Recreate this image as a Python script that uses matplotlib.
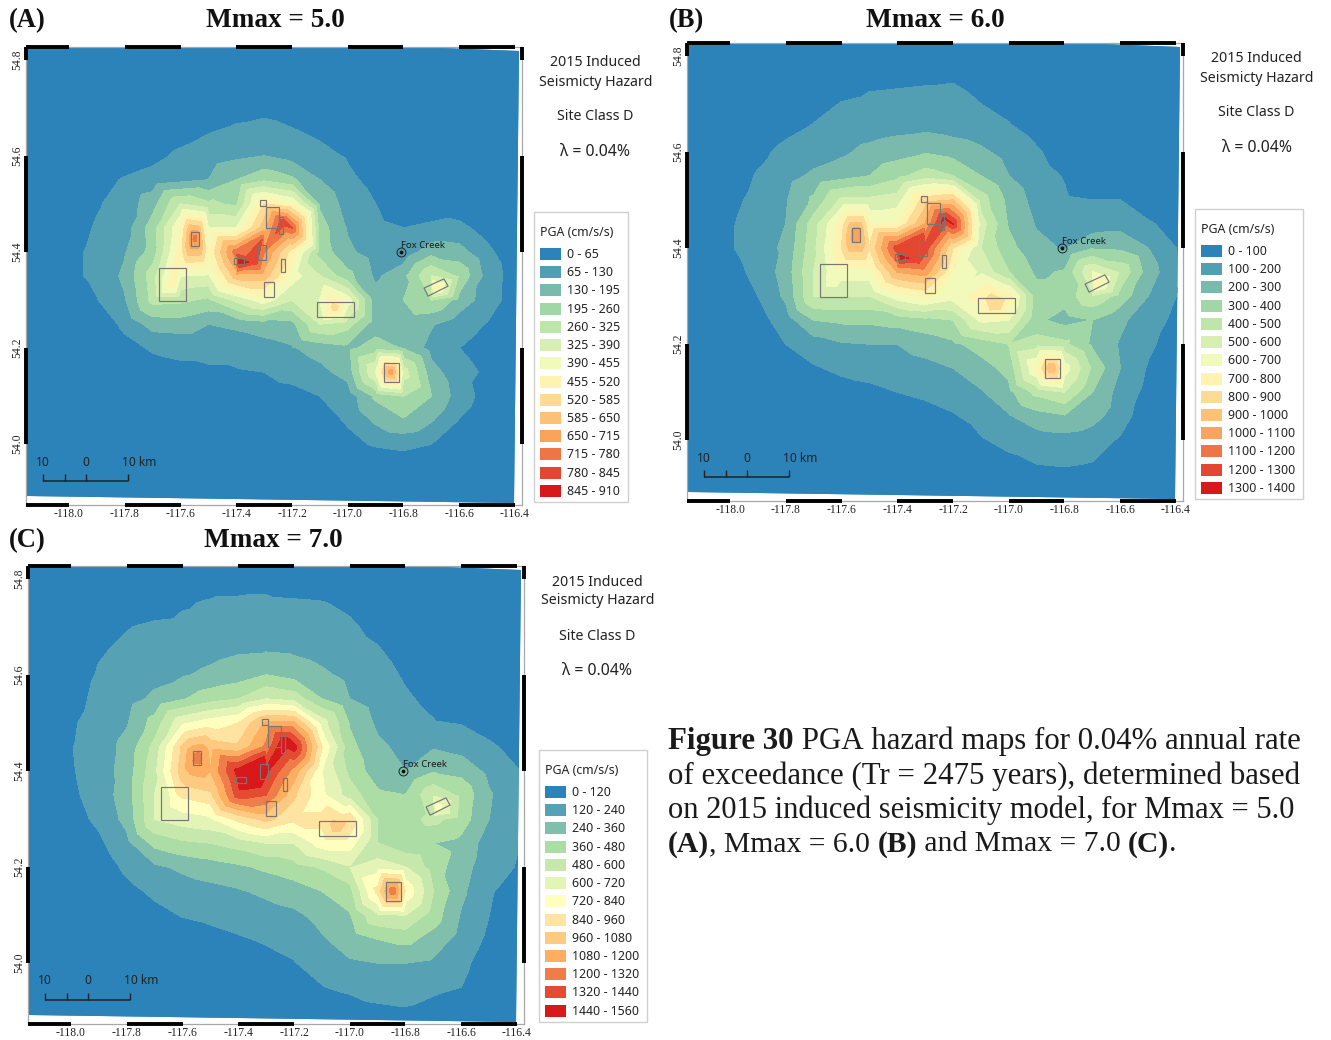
import numpy as np
import matplotlib
matplotlib.use("Agg")
import matplotlib.pyplot as plt
from matplotlib.patches import Polygon, Rectangle
from matplotlib.tri import Triangulation

# ---------- data ----------
grid_lons = [-118.1, -118.0, -117.9, -117.8, -117.7, -117.6, -117.5, -117.4, -117.3, -117.2,
             -117.1, -117.0, -116.9, -116.8, -116.7, -116.6, -116.5, -116.4, -116.3]
grid_lats = [54.80, 54.75, 54.70, 54.65, 54.60, 54.55, 54.50, 54.45, 54.40,
             54.35, 54.30, 54.25, 54.20, 54.15, 54.10, 54.05, 54.00, 53.95, 53.90]

hazard_a = [
 [0,0,0,0,0,0,0,0,0,0,0,0,0,0,0,0,0,0,0],
 [0,0,0,0,0,0,.1,.2,.3,.2,.1,0,0,0,0,0,0,0,0],
 [0,0,0,0,0,.1,.3,.6,.7,.5,.2,0,0,0,0,0,0,0,0],
 [0,0,0,.1,.3,.6,.95,1.2,1.4,1.1,.8,.3,0,0,0,0,0,0,0],
 [0,0,.1,.3,.7,1.2,1.5,1.8,2.0,1.6,1.3,.9,.3,0,0,0,0,0,0],
 [0,0,.6,1.1,1.4,1.7,2.0,3.0,3.8,3.2,2.0,1.2,.7,.2,.1,0,0,0,0],
 [0,.3,.9,1.4,2.6,5.0,4.2,3.8,8,7,2.8,1.6,1.0,.5,.7,.5,.2,0,0],
 [0,.5,1.1,1.5,3.5,7,6,6,9.5,12,3.5,1.9,1.2,1.0,1.1,1.2,.7,.2,0],
 [0,.7,1.25,1.9,3.4,7.5,7,11.5,11,7.5,3.6,2.2,1.5,1.3,2.6,2.4,1.2,.4,0],
 [0,.7,1.25,2.2,4.5,6,5.8,9.5,9.5,6.5,5,3.3,1.8,2.7,5,3.8,1.6,.5,0],
 [0,.3,.95,1.9,4.3,4.2,3.8,5.2,6.5,5,6,6.5,2.4,3.0,4,2.6,1.5,.5,0],
 [0,0,.4,1.2,2.4,2.5,2,2.2,2.5,2.7,5,4.4,2.4,2.3,2.1,1.4,.95,.3,0],
 [0,0,0,.7,1.1,1.2,1.2,1.4,1.6,1.9,2.4,2.7,3.5,2.9,1.6,1,.6,.1,0],
 [0,0,0,.2,.6,.8,.9,.9,1.0,1.3,1.7,2.4,6,5.5,2.4,1.3,.85,0,0],
 [0,0,0,0,.1,.2,.3,.4,.6,.7,1,1.4,3.2,4.0,3.0,1.5,.6,0,0],
 [0,0,0,0,0,0,0,.05,.1,.3,.6,1.1,2.2,2.9,2.1,.95,.3,0,0],
 [0,0,0,0,0,0,0,0,0,0,.2,.75,1.1,1.25,1.0,.3,0,0,0],
 [0,0,0,0,0,0,0,0,0,0,0,0,.2,.3,.1,0,0,0,0],
 [0,0,0,0,0,0,0,0,0,0,0,0,0,0,0,0,0,0,0],
]
hazard_b = [
 [0,0,0,0,0,.1,.3,.4,.4,.4,.2,0,0,0,0,0,0,0,0],
 [0,0,0,0,.1,.5,.8,.85,.9,.95,.7,.2,0,0,0,0,0,0,0],
 [0,0,0,.2,.6,1.05,1.2,1.25,1.3,1.3,1.0,.7,.2,0,0,0,0,0,0],
 [0,0,.2,.7,1.1,1.3,1.5,1.7,1.8,1.6,1.4,1.1,.7,.1,0,0,0,0,0],
 [0,.2,.7,1.3,1.5,1.8,2.3,2.6,2.9,2.6,2.2,1.6,1.1,.6,.1,0,0,0,0],
 [0,.4,1.1,1.6,2.2,2.6,3.0,3.7,4.5,4.0,3.0,2.0,1.3,.95,.4,.2,0,0,0],
 [0,.7,1.3,1.9,3.2,5.2,5.2,5.5,8.5,9,4.5,2.7,1.6,1.1,1.0,1.0,.5,.1,0],
 [0,.9,1.4,2.0,4.5,7.5,7,7,10,13,5.5,2.9,1.9,1.5,1.4,1.6,1.1,.7,0],
 [0,.9,1.5,2.2,4.7,8,8,12.5,12.5,8,5,3.3,2.3,1.9,2.9,2.8,2.0,1.0,.2],
 [0,.6,1.3,2.4,5,6.5,6.5,10,10.5,7,5.8,4,2.8,3.1,6,4.8,2.5,1.2,.3],
 [0,.3,1.0,2.2,5,5,5,6.5,7.2,6.5,7.5,7.5,3.4,3.4,4.8,3.6,2,1.0,.3],
 [0,0,.6,1.5,3.0,3.2,3.2,3.4,3.7,4,6.2,6,3.2,2.6,3,2.2,1.4,.8,.1],
 [0,0,.1,1.0,1.5,1.9,2.0,2.0,2.4,2.8,3.4,4,4.5,4.2,2.8,1.9,1.2,.5,0],
 [0,0,0,.4,.9,1.2,1.3,1.5,1.7,2,2.6,3.3,7,6.5,3.8,2,.9,.2,0],
 [0,0,0,0,.3,.6,.8,1.0,1.2,1.5,1.9,2.7,4.3,5,3,1.6,.7,.1,0],
 [0,0,0,0,0,.1,.2,.4,.6,.9,1.4,1.9,2.6,2.9,2.4,1.4,.4,0,0],
 [0,0,0,0,0,0,0,0,.1,.2,.9,1.3,1.5,1.6,1.4,.9,.2,0,0],
 [0,0,0,0,0,0,0,0,0,0,.1,.7,1.0,1.1,.95,.3,0,0,0],
 [0,0,0,0,0,0,0,0,0,0,0,0,.1,.2,.1,0,0,0,0],
]
hazard_c = [
 [0,0,0,0,0,0,.2,.6,.7,.5,.2,0,0,0,0,0,0,0,0],
 [0,0,0,.1,.4,.85,1.15,1.15,1.15,1.1,1.05,.8,.3,0,0,0,0,0,0],
 [0,0,.1,.95,1.2,1.3,1.4,1.45,1.5,1.5,1.4,1.15,.7,.1,0,0,0,0,0],
 [0,.2,.9,1.2,1.4,1.5,1.7,1.9,1.95,1.85,1.6,1.4,1.1,.5,.1,0,0,0,0],
 [0,.4,1.1,1.4,1.7,1.9,2.2,2.5,3.0,2.6,2.2,1.7,1.3,.9,.4,0,0,0,0],
 [0,.7,1.2,1.6,2.2,2.9,3.6,4,5,4.6,3,2,1.5,1.1,.8,.4,.1,0,0],
 [0,.9,1.3,1.9,3.4,5.8,6.5,7,9.2,9.2,5.5,2.9,1.8,1.3,1.05,.95,.6,.1,0],
 [0,.95,1.5,2.3,4.3,8.2,8.6,8.2,10.2,12.5,7,3.3,2.2,1.7,1.9,1.6,1.15,.7,.3],
 [0,.9,1.5,2.4,4.7,8.6,9,12.4,12.2,9.6,6,3.7,2.4,2.0,2.9,2.7,1.7,1.05,.6],
 [0,.8,1.4,2.5,5,7.2,7.7,11.5,11,8.2,6.2,4.5,3.2,3,4.8,3.7,2.1,1.2,.7],
 [0,.6,1.2,2.3,5,5.5,5.8,7.3,8.3,7.3,7.3,7.8,3.9,3.6,4.3,3.5,2,1.15,.6],
 [0,.2,.8,1.7,3.3,3.8,4.0,4.4,5,5,6.5,6.5,4,3.2,3,2.7,1.5,1.05,.5],
 [0,0,.4,1.2,1.8,2.2,2.5,2.8,3.2,3.6,4.1,4.9,5.5,5,3.5,2.4,1.4,.95,.4],
 [0,0,.1,.7,1.2,1.5,1.7,1.9,2.2,2.5,3.0,3.6,7.3,6.8,4,2.2,1.1,.6,.1],
 [0,0,0,.2,.7,1.05,1.2,1.4,1.6,1.8,2.3,2.9,4.8,5,3.5,1.9,1.0,.4,0],
 [0,0,0,0,.2,.5,.7,.9,1.1,1.3,1.9,2.4,3.0,3.3,2.6,1.6,.8,.1,0],
 [0,0,0,0,0,.1,.3,.5,.7,.95,1.4,1.9,2,2,1.8,1.3,.4,0,0],
 [0,0,0,0,0,0,0,0,0,.2,.95,1.3,1.4,1.4,1.3,1.0,.2,0,0],
 [0,0,0,0,0,0,0,0,0,0,0,.3,.8,.9,.5,.1,0,0,0],
]

# local maxima between grid nodes
peak_lons = [-117.387, -117.308, -117.232, -117.548, -117.631, -117.046, -116.845, -116.687, -117.333]
peak_lats = [54.379, 54.425, 54.4625, 54.429, 54.331, 54.283, 54.150, 54.325, 54.379]
peaks_a = [13.7, 12.0, 12.6, 11.5, 7.5, 8.5, 10.7, 7.5, 12.5]
peaks_b = [13.2, 12.6, 13.1, 11.0, 6.5, 9.0, 10.0, 7.5, 12.8]
peaks_c = [12.8, 12.4, 12.7, 10.5, 6.2, 8.5, 10.8, 6.5, 12.7]

colors_14 = ['#2b83ba', '#529fb3', '#7abaac', '#a1d6a6', '#bee5aa', '#d8efb3', '#f2fabb',
             '#fff3b1', '#fedb94', '#fdc177', '#faa35c', '#ee7546', '#e34731', '#d7191c']
colors_13 = ['#2b83ba', '#56a1b3', '#80bfab', '#abdda4', '#c7e8ad', '#e3f4b6', '#ffffbf',
             '#fee4a0', '#fec981', '#fdae61', '#f07c4a', '#e44b33', '#d7191c']
band_edges_a = [0, 65, 130, 195, 260, 325, 390, 455, 520, 585, 650, 715, 780, 845, 910]
band_edges_b = [0, 100, 200, 300, 400, 500, 600, 700, 800, 900, 1000, 1100, 1200, 1300, 1400]
band_edges_c = [0, 120, 240, 360, 480, 600, 720, 840, 960, 1080, 1200, 1320, 1440, 1560]

# seismic source zones (lon, lat corners)
source_zones = [
 [(-117.677,54.367),(-117.580,54.367),(-117.580,54.298),(-117.677,54.298)],
 [(-117.564,54.442),(-117.534,54.442),(-117.534,54.412),(-117.564,54.412)],
 [(-117.408,54.3875),(-117.372,54.3875),(-117.372,54.375),(-117.408,54.375)],
 [(-117.322,54.415),(-117.293,54.415),(-117.293,54.383),(-117.322,54.383)],
 [(-117.293,54.494),(-117.247,54.494),(-117.247,54.45),(-117.293,54.45)],
 [(-117.247,54.473),(-117.234,54.473),(-117.234,54.4375),(-117.247,54.4375)],
 [(-117.315,54.508),(-117.293,54.508),(-117.293,54.496),(-117.315,54.496)],
 [(-117.239,54.385),(-117.225,54.385),(-117.225,54.358),(-117.239,54.358)],
 [(-117.30,54.3375),(-117.265,54.3375),(-117.265,54.306),(-117.30,54.306)],
 [(-117.110,54.296),(-116.978,54.296),(-116.978,54.265),(-117.110,54.265)],
 [(-116.870,54.169),(-116.816,54.169),(-116.816,54.129),(-116.870,54.129)],
 [(-116.726,54.325),(-116.655,54.344),(-116.640,54.329),(-116.712,54.308)],
]
fox_creek = (-116.809, 54.40)
lon_ticks = [-118.0, -117.8, -117.6, -117.4, -117.2, -117.0, -116.8, -116.6, -116.4]
lat_ticks = [54.0, 54.2, 54.4, 54.6, 54.8]

# ---------- layout ----------
W, H = 1331, 1040
PX_LON, PX_LAT = 278.75, 480.0
SERIF = 'Liberation Serif'
SANS = 'Noto Sans'
plt.rcParams['font.family'] = SANS
fig = plt.figure(figsize=(W / 100, H / 100), dpi=100, facecolor='white')
ov = fig.add_axes([0, 0, 1, 1], zorder=10)
ov.set_xlim(0, W); ov.set_ylim(H, 0); ov.axis('off'); ov.patch.set_alpha(0)


def lab(edges):
    return [f'{a} - {b}' for a, b in zip(edges[:-1], edges[1:])]


def draw_panel(letter, title, grid, peaks, edges, colors, dx, dy, head, box, ly_title, ly_first):
    x0, x1, y0, y1 = 26 + dx, 522 + dx, 47 + dy, 505 + dy
    ax = fig.add_axes([x0 / W, 1 - y1 / H, (x1 - x0) / W, (y1 - y0) / H], zorder=2)
    lon0 = -118 + (26 - 69) / PX_LON
    lon1 = -118 + (522 - 69) / PX_LON
    lat1 = 54 + (444 - 47) / PX_LAT
    lat0 = 54 + (444 - 505) / PX_LAT
    ax.set_xlim(lon0, lon1); ax.set_ylim(lat0, lat1)

    lo = lambda p: -118 + (p - 69) / PX_LON
    la = lambda p: 54 + (444 - p) / PX_LAT
    clip = Polygon([(lo(27), la(48)), (lo(442), la(48)), (lo(519), la(51)), (lo(514), la(503)), (lo(27), la(496))],
                   closed=True, facecolor=colors[0], edgecolor='none', zorder=1)
    ax.add_patch(clip)

    g = np.pad(np.array(grid, dtype=float), ((2, 2), (2, 1)), constant_values=0.0)
    lons = np.concatenate([[-118.3, -118.2], grid_lons, [-116.2]])
    lats = np.concatenate([[54.9, 54.85], grid_lats, [53.85, 53.8]])
    LO, LA = np.meshgrid(lons, lats)
    step = edges[1] - edges[0]
    xs = np.concatenate([LO.ravel(), peak_lons])
    ys = np.concatenate([LA.ravel(), peak_lats])
    zs = np.concatenate([g.ravel(), peaks]) * step
    tri = Triangulation(xs, ys)
    cs = ax.tricontourf(tri, zs, levels=edges, colors=colors, zorder=2)
    cs.set_edgecolor('face'); cs.set_linewidth(0.3)
    cs.set_clip_path(clip)

    for z in source_zones:
        ax.add_patch(Polygon(z, closed=True, fill=False, edgecolor='#767676', lw=0.85, zorder=3))
    ax.plot([fox_creek[0]], [fox_creek[1]], 'o', ms=6.4, mfc='none', mec='#222222', mew=0.7, zorder=4)
    ax.plot([fox_creek[0]], [fox_creek[1]], 'o', ms=1.8, color='#111111', zorder=4)
    ax.annotate('Fox Creek', fox_creek, xytext=(0, 4.4), textcoords='offset points', fontsize=6.9,
                color='#1a1a1a', zorder=4, va='center', ha='left')

    ax.set_xticks(lon_ticks); ax.set_xticklabels([f'{v:.1f}' for v in lon_ticks], fontsize=8.4, family=SERIF, color='#222222')
    ax.set_yticks(lat_ticks)
    ax.set_yticklabels([f'{v:.1f}' for v in lat_ticks], fontsize=8.4, family=SERIF, rotation=90, va='center', color='#222222')
    ax.tick_params(length=0, pad=2.2)
    for s in ax.spines.values():
        s.set_color('#a8a8a8'); s.set_linewidth(0.9)

    # zebra frame
    xs_z = [lon0] + lon_ticks + [lon1]
    for i in range(0, len(xs_z) - 1, 2):
        for yy in (lat1, lat0):
            ax.plot(xs_z[i:i + 2], [yy, yy], color='black', lw=2.8, solid_capstyle='butt', clip_on=False, zorder=5)
    ys_z = [lat1] + lat_ticks[::-1] + [lat0]
    for i in range(0, len(ys_z) - 1, 2):
        for xx in (lon0, lon1):
            ax.plot([xx, xx], ys_z[i:i + 2], color='black', lw=2.8, solid_capstyle='butt', clip_on=False, zorder=5)

    # headings
    ov.text(head[0], head[2], letter, family=SERIF, weight='bold', fontsize=19.2, va='center', ha='left', color='#111111')
    ov.text(head[1], head[2], title, family=SERIF, weight='bold', fontsize=19.6, va='center', ha='center', color='#111111')

    # side block
    cx = 595.5 + dx
    for t, yy, fs in (('2015 Induced', 63, 10.2), ('Seismicty Hazard', 82, 10.2),
                      ('Site Class D', 117, 10.2), ('\u03bb = 0.04%', 152, 11.4)):
        ov.text(cx, yy + dy, t, fontsize=fs, ha='center', va='center', color='#222222')

    # legend
    lx, ly, lw_box, lh_box = box
    ov.add_patch(Rectangle((lx, ly), lw_box, lh_box, facecolor='white', edgecolor='#d0d0d0', lw=1.0))
    ov.text(lx + 6, ly_title + 0.5, 'PGA (cm/s/s)', fontsize=8.9, va='center', ha='left', color='#222222')
    for i, t in enumerate(lab(edges)):
        yy = ly_first + i * 18.22
        ov.add_patch(Rectangle((lx + 6, yy - 6), 21, 12, facecolor=colors[i], edgecolor='none'))
        ov.text(lx + 33, yy + 0.5, t, fontsize=8.9, va='center', ha='left', color='#222222')

    # scale bar
    bx = 43 + dx
    by = 481 + dy
    ov.plot([bx, bx + 85], [by, by], color='#222222', lw=1.1, solid_capstyle='butt')
    for t in (0, 21.5, 43, 85):
        ov.plot([bx + t, bx + t], [by, by - 7], color='#222222', lw=1.0, solid_capstyle='butt')
    for t, xx in (('10', 43), ('0', 85.5), ('10 km', 139)):
        ov.text(xx + dx, 462 + dy, t, fontsize=8.6, ha='center', va='center', color='#222222')


draw_panel('(A)', 'Mmax = 5.0', hazard_a, peaks_a, band_edges_a, colors_14, 0, 0, (9, 275.5, 20.5), (534, 212, 94, 290), 232, 254)
draw_panel('(B)', 'Mmax = 6.0', hazard_b, peaks_b, band_edges_b, colors_14, 661, -4, (669, 935, 20.5), (1195, 209, 108, 290), 229, 251)
draw_panel('(C)', 'Mmax = 7.0', hazard_c, peaks_c, band_edges_c, colors_13, 2, 519, (9, 273.5, 540.5), (539, 750, 108, 272), 770, 792)

# caption as runs of regular and bold text
caption = [
    (741, 22.2, [('Figure 30', True), (' PGA hazard maps for 0.04% annual rate', False)]),
    (776, 22.2, [('of exceedance (Tr = 2475 years), determined based', False)]),
    (810, 22.0, [('on 2015 induced seismicity model, for Mmax = 5.0', False)]),
    (844, 21.3, [('(A)', True), (', Mmax = 6.0 ', False), ('(B)', True), (' and Mmax = 7.0 ', False), ('(C)', True), ('.', False)]),
]
r = fig.canvas.get_renderer()
for yy, fs, runs in caption:
    x = 668.0
    for t, bold in runs:
        tt = ov.text(x, yy, t.replace(' ', '\u00a0'), family=SERIF, fontsize=fs, weight='bold' if bold else 'normal',
                     va='center', ha='left', color='#1a1a1a')
        x = tt.get_window_extent(r).x1

fig.savefig('out.png', dpi=100, facecolor='white')
